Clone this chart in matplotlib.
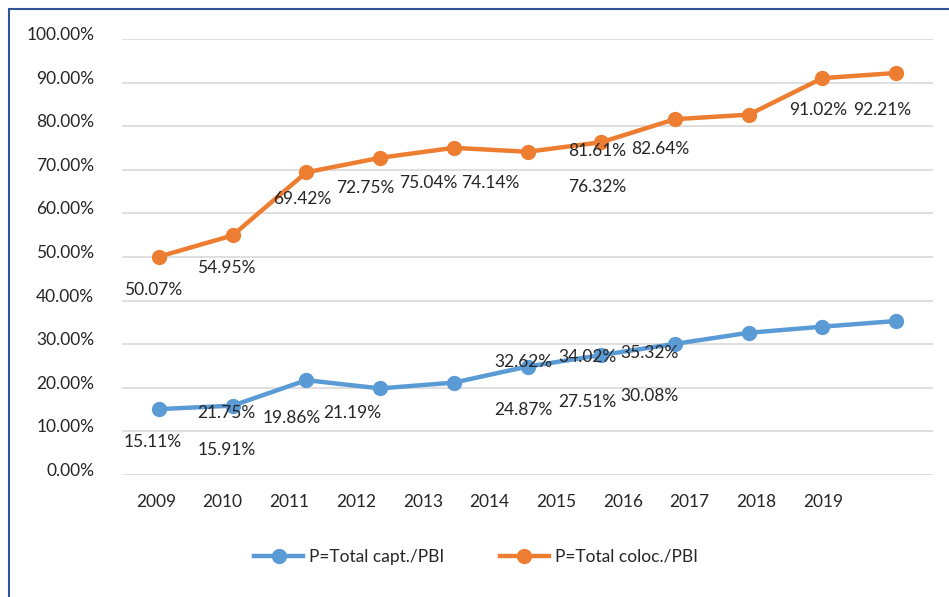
import numpy as np
import matplotlib
matplotlib.use("Agg")
import matplotlib.pyplot as plt
import matplotlib.transforms as mtransforms
from matplotlib.patches import Rectangle

plt.rcParams["font.family"] = ["Lato", "DejaVu Sans"]

# ── Data ──────────────────────────────────────────────────────────────────────
years = ["2009", "2010", "2011", "2012", "2013", "2014",
         "2015", "2016", "2017", "2018", "2019"]
capt = [15.11, 15.91, 21.75, 19.86, 21.19, 24.87, 27.51, 30.08, 32.62, 34.02, 35.32]
coloc = [50.07, 54.95, 69.42, 72.75, 75.04, 74.14, 76.32, 81.61, 82.64, 91.02, 92.21]
yticks = [0, 10, 20, 30, 40, 50, 60, 70, 80, 90, 100]

# label placements (data coords) as they appear in the original chart
capt_lbl_xy = [(-0.08, 7.6), (0.92, 5.8), (0.92, 14.2), (1.80, 13.1), (2.62, 14.2),
               (4.94, 14.9), (5.81, 16.7), (6.66, 18.1), (4.94, 25.9), (5.81, 27.1), (6.66, 28.0)]
coloc_lbl_xy = [(-0.08, 42.4), (0.92, 47.5), (1.95, 63.3), (2.80, 65.8), (3.65, 67.0),
                (4.50, 67.0), (5.94, 66.1), (5.94, 74.3), (6.80, 74.8), (8.94, 83.7), (9.81, 83.7)]

C_CAPT = "#5B9BD5"
C_COLOC = "#ED7D31"
C_TEXT = "#262626"

fig = plt.figure(figsize=(9.49, 5.97), dpi=100)
ax = fig.add_axes([122 / 949, 1 - 475 / 597, (933 - 122) / 949, (475 - 39) / 597])

x = np.arange(len(years))
ax.plot(x, capt, color=C_CAPT, lw=3.2, marker="o", markersize=10,
        label="P=Total capt./PBI", zorder=3)
ax.plot(x, coloc, color=C_COLOC, lw=3.2, marker="o", markersize=10,
        label="P=Total coloc./PBI", zorder=3)

for v, (lx, ly) in zip(capt, capt_lbl_xy):
    ax.text(lx, ly, f"{v:.2f}%", ha="center", va="center", fontsize=12.5, color=C_TEXT, zorder=4)
for v, (lx, ly) in zip(coloc, coloc_lbl_xy):
    ax.text(lx, ly, f"{v:.2f}%", ha="center", va="center", fontsize=12.5, color=C_TEXT, zorder=4)

ax.set_xlim(-0.5, len(years) - 0.5)
ax.set_ylim(0, 100)
ax.set_yticks(yticks)
ax.set_yticklabels([f"{t:.2f}%" for t in yticks], fontsize=12.5, color=C_TEXT)
ax.set_xticks(np.arange(len(years)) * 0.905 - 0.04)
ax.set_xticklabels(years, fontsize=12.5, color=C_TEXT)
ax.tick_params(axis="both", length=0)
ax.tick_params(axis="x", pad=14)
ax.tick_params(axis="y", pad=20)
shift = mtransforms.ScaledTranslation(0, 4 / 72, fig.dpi_scale_trans)
for lbl in ax.get_yticklabels():
    lbl.set_transform(lbl.get_transform() + shift)

ax.grid(axis="y", color="#D9D9D9", lw=1.2)
ax.set_axisbelow(True)
for s in ax.spines.values():
    s.set_visible(False)

fig.legend(loc="center", bbox_to_anchor=(476 / 949, 1 - 557 / 597), ncol=2,
           frameon=False, fontsize=12.5, handlelength=2.8, handletextpad=0.35,
           columnspacing=3.2, labelcolor=C_TEXT)

fig.patches.append(Rectangle((8.5 / 949, -0.05), 1.1, 1.05 - 8.5 / 597,
                             transform=fig.transFigure, fill=False,
                             edgecolor="#2F5597", lw=1.5))

fig.savefig("out.png", dpi=100)
